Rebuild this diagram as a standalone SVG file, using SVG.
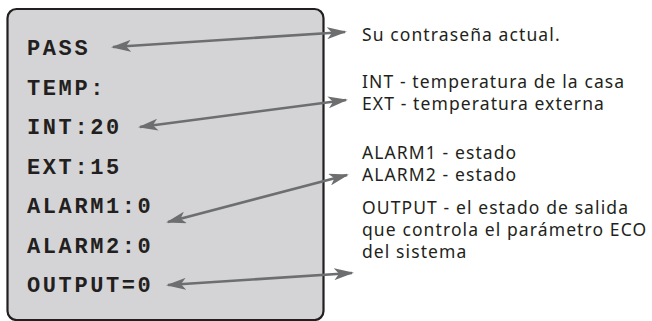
<svg xmlns="http://www.w3.org/2000/svg" width="652" height="321" viewBox="0 0 652 321">
<style>
.mono{font-family:"Liberation Mono","Courier New",monospace;font-weight:bold;font-size:22px;letter-spacing:2.6px;fill:#231f20}
.sans{font-family:"Noto Sans","Open Sans",sans-serif;font-size:17.5px;letter-spacing:1.1px;fill:#231f20}
.arr{stroke:#6d6e70;stroke-width:2.6;fill:none;marker-start:url(#ah);marker-end:url(#ah)}
</style>
<defs>
<marker id="ah" viewBox="0 0 20 12" refX="18" refY="6" markerWidth="20" markerHeight="12" markerUnits="userSpaceOnUse" orient="auto-start-reverse">
<path d="M0,0 L20,6 L0,12 L5,6 Z" fill="#6d6e70"/>
</marker>
</defs>
<g id="panel">
<rect x="7.5" y="9" width="316" height="311" rx="9" ry="9" fill="#d4d4d6" stroke="#231f20" stroke-width="2.2"/>
<text class="mono" x="27" y="55">PASS</text>
<text class="mono" x="27" y="94.5">TEMP:</text>
<text class="mono" x="27" y="134">INT:20</text>
<text class="mono" x="27" y="173.5">EXT:15</text>
<text class="mono" x="27" y="213">ALARM1:0</text>
<text class="mono" x="27" y="252.5">ALARM2:0</text>
<text class="mono" x="27" y="292">OUTPUT=0</text>
</g>
<g id="connectors">
<line class="arr" x1="113" y1="47" x2="345" y2="32"/>
<line class="arr" x1="140" y1="127" x2="346" y2="100"/>
<line class="arr" x1="168" y1="222" x2="347" y2="175"/>
<line class="arr" x1="168" y1="285" x2="352" y2="273"/>
</g>
<g id="desc-pass"><text class="sans" x="362" y="41">Su contraseña actual.</text></g>
<g id="desc-temp"><text class="sans" x="362" y="88">INT - temperatura de la casa</text><text class="sans" x="362" y="110">EXT - temperatura externa</text></g>
<g id="desc-alarm"><text class="sans" x="362" y="159">ALARM1 - estado</text><text class="sans" x="362" y="181">ALARM2 - estado</text></g>
<g id="desc-output"><text class="sans" x="362" y="213.5">OUTPUT - el estado de salida</text><text class="sans" x="362" y="235.5">que controla el parámetro ECO</text><text class="sans" x="362" y="257.5">del sistema</text></g>
</svg>
